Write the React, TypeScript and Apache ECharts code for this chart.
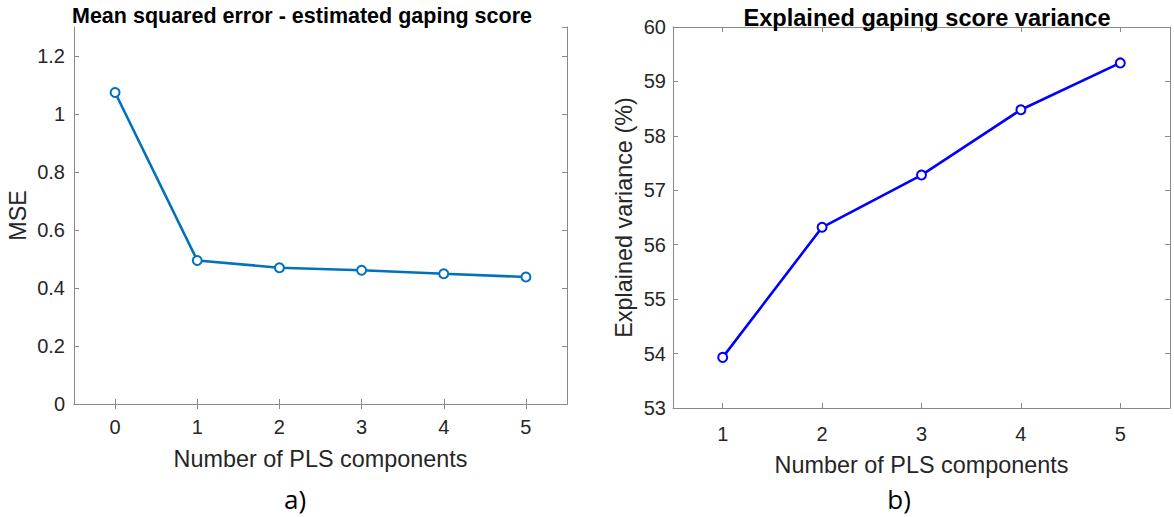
import React, { useEffect, useRef } from "react";
import * as echarts from "echarts";

const mseComponents = ["0", "1", "2", "3", "4", "5"];
const mseValues = [1.074, 0.495, 0.47, 0.461, 0.449, 0.438];
const varComponents = ["1", "2", "3", "4", "5"];
const varValues = [53.93, 56.32, 57.28, 58.48, 59.34];

const leftTitle = "Mean squared error - estimated gaping score";
const rightTitle = "Explained gaping score variance";
const xName = "Number of PLS components";

const FONT = "'Liberation Sans', Arial, sans-serif";
const AXIS_COLOR = "#8a8a8a";
const LABEL_COLOR = "#262626";

export default function App() {
  const ref = useRef<HTMLDivElement>(null);
  useEffect(() => {
    if (!ref.current) return;
    const chart = echarts.init(ref.current, null, { renderer: "svg" });
    const axisLine = { show: true, lineStyle: { color: AXIS_COLOR, width: 1 } };
    const tick = { show: true, inside: true, length: 5, alignWithLabel: true, lineStyle: { color: AXIS_COLOR } };
    const labelStyle = { color: LABEL_COLOR, fontFamily: FONT, fontSize: 20 };
    const nameStyle = { color: LABEL_COLOR, fontFamily: FONT, fontSize: 23.4 };

    const catAxis = (grid: number, data: string[], margin: number, nameGap: number) => [
      {
        type: "category",
        gridIndex: grid,
        data,
        boundaryGap: true,
        axisLine,
        axisTick: tick,
        axisLabel: { ...labelStyle, margin },
        splitLine: { show: false },
        name: xName,
        nameLocation: "middle",
        nameGap,
        nameTextStyle: nameStyle,
      },
      {
        type: "category",
        gridIndex: grid,
        data,
        position: "top",
        boundaryGap: true,
        axisLine,
        axisTick: tick,
        axisLabel: { show: false },
        splitLine: { show: false },
      },
    ];

    const valAxis = (grid: number, min: number, max: number, interval: number, name: string, nameGap: number, margin: number, showMax: boolean, fmt: (v: number) => string) => [
      {
        type: "value",
        gridIndex: grid,
        min,
        max,
        interval,
        axisLine,
        axisTick: { show: true, inside: true, length: 5, lineStyle: { color: AXIS_COLOR } },
        axisLabel: { ...labelStyle, margin, showMaxLabel: showMax, formatter: fmt },
        splitLine: { show: false },
        name,
        nameLocation: "middle",
        nameGap,
        nameTextStyle: nameStyle,
      },
      {
        type: "value",
        gridIndex: grid,
        min,
        max,
        interval,
        position: "right",
        axisLine,
        axisTick: { show: true, inside: true, length: 5, lineStyle: { color: AXIS_COLOR } },
        axisLabel: { show: false },
        splitLine: { show: false },
      },
    ];

    const titleStyle = { fontFamily: FONT, fontSize: 21.5, fontWeight: "bold", color: "#000" };
    const subStyle = { fontFamily: "'Open Sans', 'Noto Sans', sans-serif", fontSize: 26, fontWeight: "normal", color: "#000" };

    chart.setOption({
      animation: false,
      backgroundColor: "#ffffff",
      title: [
        { text: leftTitle, left: 297, top: 0, textAlign: "center", textStyle: titleStyle },
        { text: rightTitle, left: 922, top: 1, textAlign: "center", textStyle: { ...titleStyle, fontSize: 23.6 } },
        { text: "a)", left: 290, top: 481, textAlign: "center", textStyle: subStyle },
        { text: "b)", left: 894, top: 481, textAlign: "center", textStyle: subStyle },
      ],
      grid: [
        { left: 74, right: 1174 - 567, top: 27, bottom: 517 - 404, containLabel: false },
        { left: 673, right: 4, top: 27, bottom: 517 - 408, containLabel: false },
      ],
      xAxis: [...catAxis(0, mseComponents, 13, 43), ...catAxis(1, varComponents, 16, 45)],
      yAxis: [
        ...valAxis(0, 0, 1.3, 0.2, "MSE", 45, 9, false, (v: number) => String(Math.round(v * 10) / 10)),
        ...valAxis(1, 53, 60, 1, "Explained variance (%)", 38, 7, true, (v: number) => String(v)),
      ],
      series: [
        {
          type: "line",
          xAxisIndex: 0,
          yAxisIndex: 0,
          data: mseValues,
          symbol: "emptyCircle",
          symbolSize: 9,
          lineStyle: { color: "#0072BD", width: 2.6 },
          itemStyle: { color: "#0072BD", borderColor: "#0072BD", borderWidth: 2.6 },
        },
        {
          type: "line",
          xAxisIndex: 2,
          yAxisIndex: 2,
          data: varValues,
          symbol: "emptyCircle",
          symbolSize: 9,
          lineStyle: { color: "#0000FF", width: 2.6 },
          itemStyle: { color: "#0000FF", borderColor: "#0000FF", borderWidth: 2.6 },
        },
      ],
    });
    return () => chart.dispose();
  }, []);
  return (
    <div
      ref={ref}
      style={{ position: "fixed", left: 0, top: 0, width: 1174, height: 517, background: "#fff" }}
    />
  );
}
